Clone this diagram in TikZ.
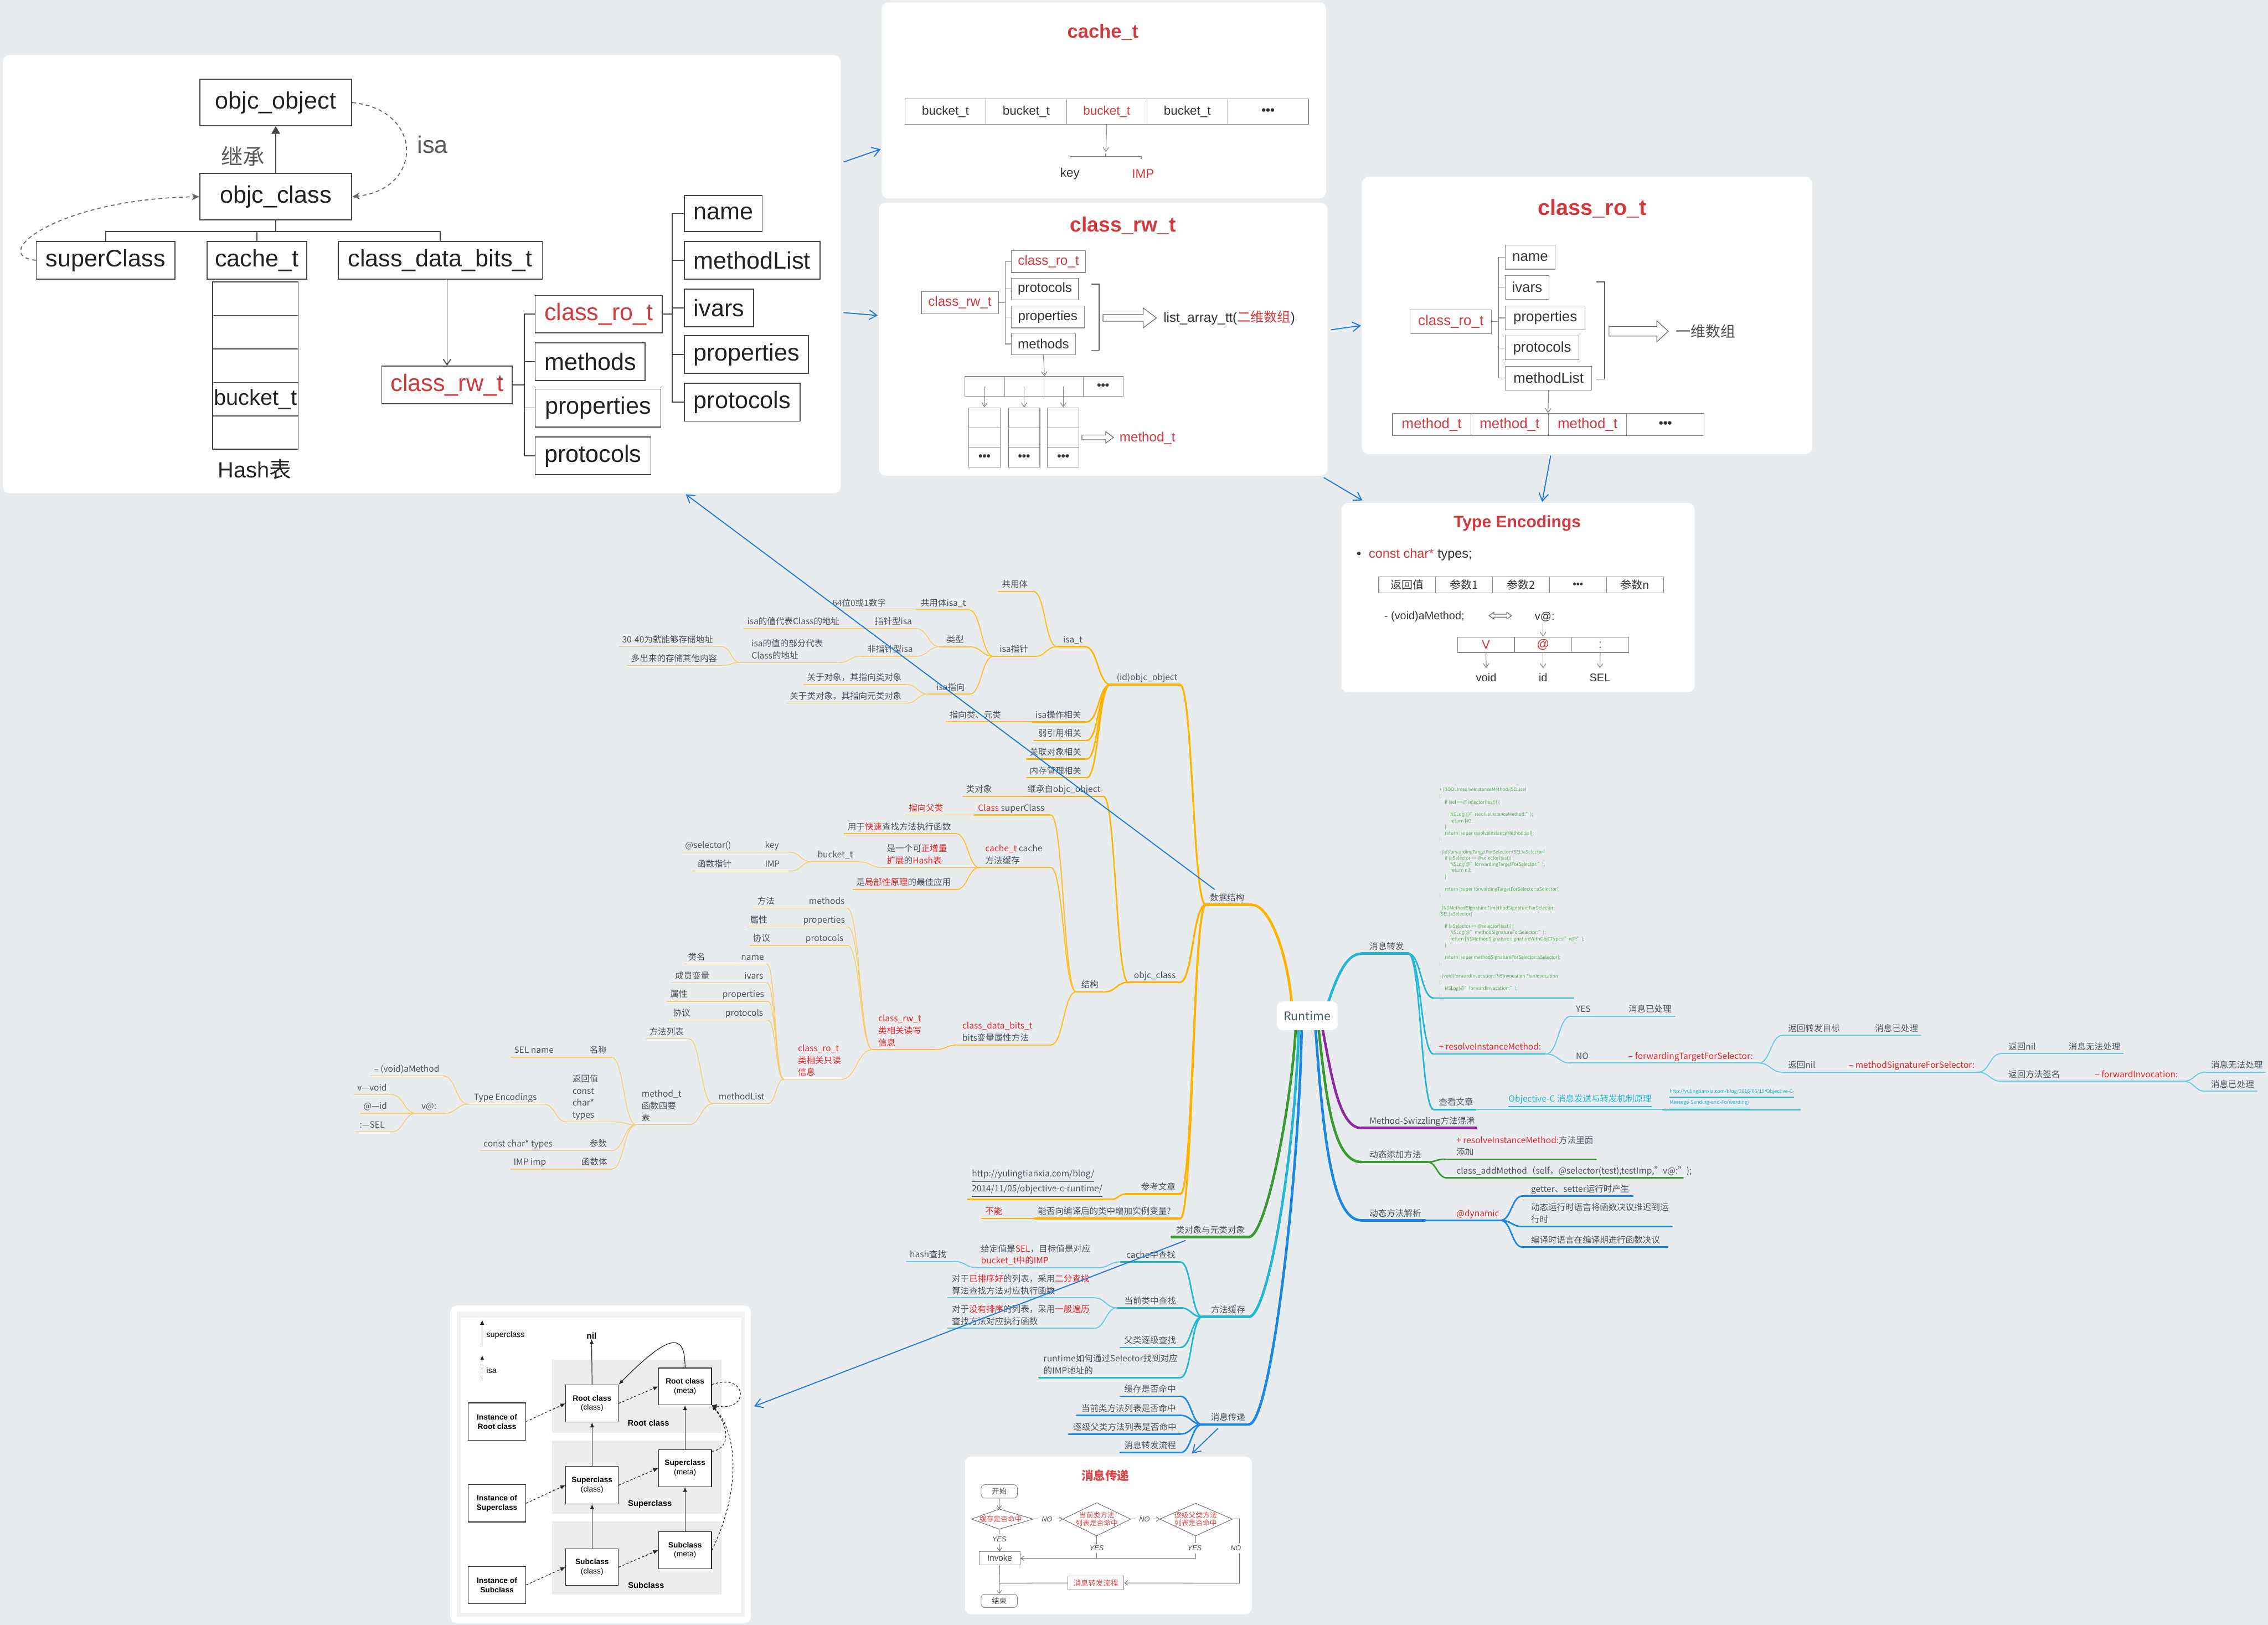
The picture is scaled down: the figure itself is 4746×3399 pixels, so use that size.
\documentclass[tikz,border=0pt]{standalone}
\usepackage{fontspec}
\setmainfont{Noto Sans CJK SC}
\newfontfamily\arial{Liberation Sans}
\newcommand\cjk{\rmfamily}
\usetikzlibrary{arrows.meta,calc}
\definecolor{bgc}{HTML}{E9ECEF}
\definecolor{txt}{HTML}{4B5560}
\definecolor{mred}{HTML}{E8262B}
\definecolor{pred}{HTML}{CF3A3F}
\definecolor{org}{HTML}{FFB300}
\definecolor{org2}{HTML}{FFBE2C}
\definecolor{org3}{HTML}{F8CC68}
\definecolor{cya}{HTML}{22B7D3}
\definecolor{cya2}{HTML}{6ACBE0}
\definecolor{blu}{HTML}{1C86E3}
\definecolor{grn}{HTML}{3A9A32}
\definecolor{pur}{HTML}{8C2A9E}
\definecolor{codegreen}{HTML}{5BAF5B}
\definecolor{lnk}{HTML}{1F7BD8}
\definecolor{tlgray}{HTML}{444444}
\definecolor{tltext}{HTML}{222222}
\definecolor{pgray}{HTML}{8A8A8A}
\definecolor{ptext}{HTML}{333333}
\definecolor{rtc}{HTML}{3E5A6A}
\definecolor{fred}{HTML}{D9464A}
\definecolor{band}{HTML}{EDEDED}
\tikzset{
  panel/.style={fill=white, rounded corners=3.5pt},
  mt/.style={font=\fontsize{4.5pt}{6.25pt}\selectfont, text=txt, align=left, inner sep=0pt, anchor=south west, execute at end node={\vphantom{g}}},
  o1/.style={draw=org, line width=1.35pt, line cap=round},
  o2/.style={draw=org, line width=0.95pt, line cap=round},
  o3/.style={draw=org, line width=0.75pt, line cap=round},
  o4/.style={draw=org2, line width=0.6pt, line cap=round},
  o5/.style={draw=org2, line width=0.5pt, line cap=round},
  o6/.style={draw=org3, line width=0.38pt, line cap=round},
  c1/.style={draw=cya, line width=1.35pt, line cap=round},
  c2/.style={draw=cya, line width=0.8pt, line cap=round},
  c3/.style={draw=cya2, line width=0.55pt, line cap=round},
  b1/.style={draw=blu, line width=1.35pt, line cap=round},
  b2/.style={draw=blu, line width=0.8pt, line cap=round},
  g1/.style={draw=grn, line width=1.35pt, line cap=round},
  g2/.style={draw=grn, line width=0.8pt, line cap=round},
  p1/.style={draw=pur, line width=1.35pt, line cap=round},
  code/.style={font=\fontsize{2.4pt}{3.25pt}\selectfont, text=codegreen, align=left, inner sep=0pt, anchor=north west},
  tlb/.style={draw=tlgray, line width=0.5pt, font=\arial\fontsize{12.5pt}{15pt}\selectfont, text=tltext, inner sep=0pt},
  tlline/.style={draw=tlgray, line width=0.5pt},
  pb/.style={draw=pgray, line width=0.35pt, inner sep=0pt, text=ptext},
  pl/.style={draw=pgray, line width=0.35pt},
  pa/.style={draw=pgray, line width=0.35pt, -{Straight Barb[length=2.2pt,width=3pt]}},
  lnkarrow/.style={draw=lnk, line width=0.55pt, -{Straight Barb[length=4pt,width=5pt]}},
  blb/.style={draw=black!85, line width=0.35pt, fill=white, font=\arial\fontsize{4pt}{4.9pt}\selectfont, align=center, inner sep=0pt},
  bla/.style={draw=black!85, line width=0.35pt, -{Latex[length=2.6pt,width=2.2pt]}},
  fline/.style={draw=black!55, line width=0.3pt},
  farrow/.style={draw=black!55, line width=0.3pt, -{Straight Barb[length=1.6pt,width=2.4pt]}},
  fbox/.style={draw=black!45, line width=0.3pt, inner sep=0pt, font=\fontsize{3.9pt}{4.6pt}\selectfont, text=black!75},
  fc/.style={font=\fontsize{3.7pt}{4.2pt}\selectfont, text=fred, align=center, inner sep=0pt},
  fno/.style={font=\arial\itshape\fontsize{3.7pt}{4pt}\selectfont, text=black!70, inner sep=0pt}
}
\newcommand\mmnode[7]{%
  \coordinate (#1-l) at (#2,#4);
  \coordinate (#1-r) at (#3,#4);
  \draw[#5] (#1-l) -- (#1-r);
  \node[mt] (#1) at (#6,#4-3) {#7};}
\newcommand\mmconn[3]{\draw[#1] let \p1=(#2),\p2=(#3) in (#2) .. controls ({0.5*\x1+0.5*\x2},\y1) and ({0.5*\x1+0.5*\x2},\y2) .. (#3);}
\newcommand\boxnode[7][]{\node[#1, minimum width={(#5-#3)*0.25pt}, minimum height={(#6-#4)*0.25pt}] (#2) at ({(#3+#5)/2},{(#4+#6)/2}) {#7};}
\begin{document}
\begin{tikzpicture}[x=0.25pt,y=-0.25pt]
\useasboundingbox (0,0) rectangle (4746,3399);
\fill[bgc] (0,0) rectangle (4746,3399);

% ================= panels =================
\fill[panel] (6,115) rectangle (1759,1032);
\fill[panel] (1845,5) rectangle (2775,415);
\fill[panel] (1839,424) rectangle (2778,995);
\fill[panel] (2850,370) rectangle (3792,950);
\fill[panel] (2807,1052) rectangle (3546,1448);
\fill[panel] (942,2731) rectangle (1571,3396);
\fill[panel] (2019,3047) rectangle (2620,3377);

% ================= top-left panel =================
\boxnode[tlb]{objo}{418}{166}{736}{263}{objc\_object}
\boxnode[tlb]{objc}{418}{363}{736}{460}{objc\_class}
\boxnode[tlb]{supc}{76}{505}{366}{584}{superClass}
\boxnode[tlb]{cach}{433}{505}{642}{584}{cache\_t}
\boxnode[tlb]{cdb}{708}{505}{1135}{584}{class\_data\_bits\_t}
\boxnode[tlb]{h1}{445}{590}{624}{660}{}
\boxnode[tlb]{h2}{445}{660}{624}{730}{}
\boxnode[tlb]{h3}{445}{730}{624}{800}{}
\boxnode[tlb, font=\arial\fontsize{11.5pt}{13pt}\selectfont]{h4}{445}{800}{624}{870}{bucket\_t}
\boxnode[tlb]{h5}{445}{870}{624}{940}{}
\node[font=\arial\fontsize{11.5pt}{13pt}\selectfont, text=tltext] (hashl) at (533,982) {Hash{\cjk 表}};
\boxnode[tlb, text=pred]{trw}{799}{766}{1072}{845}{class\_rw\_t}
\boxnode[tlb, text=pred]{tro}{1120}{618}{1386}{696}{class\_ro\_t}
\boxnode[tlb]{tm}{1120}{717}{1350}{796}{methods}
\boxnode[tlb]{tp}{1120}{814}{1383}{893}{properties}
\boxnode[tlb]{tpr}{1120}{914}{1362}{993}{protocols}
\boxnode[tlb]{tn}{1432}{409}{1595}{484}{name}
\boxnode[tlb]{tml}{1432}{505}{1716}{584}{methodList}
\boxnode[tlb]{tiv}{1432}{605}{1577}{684}{ivars}
\boxnode[tlb]{tpp}{1432}{702}{1692}{781}{properties}
\boxnode[tlb]{tpt}{1432}{802}{1674}{881}{protocols}
\node[font=\fontsize{11.4pt}{13pt}\selectfont, text=black!65] (jc) at (508,327) {继承};
\node[font=\arial\fontsize{12.5pt}{14pt}\selectfont, text=black!65] (isal) at (905,303) {isa};
\draw[tlline, -{Triangle[length=4pt,width=4.5pt]}] (objc.north) -- (objo.south);
\coordinate (tj) at (577,484);
\draw[tlline] (objc.south) -- (tj);
\draw[tlline] (supc.north) -- (supc.north |- tj) -- (cdb.north |- tj) -- (cdb.north);
\draw[tlline] (cach.north) -- (cach.north |- tj);
\draw[tlline, -{Straight Barb[length=3pt,width=4pt]}] (trw.north |- cdb.south) -- (trw.north);
\draw[tlline] (trw.east) -- ++(26,0);
\draw[tlline] (tro.west) -- ++(-22,0) |- (tpr.west);
\draw[tlline] (tm.west) -- ++(-22,0);
\draw[tlline] (tp.west) -- ++(-22,0);
\draw[tlline] (tro.east) -- ++(22,0);
\draw[tlline] (tn.west) -- ++(-24,0) |- (tpt.west);
\draw[tlline] (tml.west) -- ++(-24,0);
\draw[tlline] (tiv.west) -- ++(-24,0);
\draw[tlline] (tpp.west) -- ++(-24,0);
\draw[tlline, draw=black!60, dash pattern=on 2pt off 1.6pt, -{Stealth[length=4pt,width=3.6pt]}] (objo.east) .. controls +(150,15) and +(150,-15) .. (objc.east);
\draw[tlline, draw=black!60, dash pattern=on 2pt off 1.6pt, -{Stealth[length=4pt,width=3.6pt]}] (supc.west) .. controls +(-100,-10) and +(-300,5) .. (objc.west);

% ================= cache_t panel =================
\node[font=\arial\bfseries\fontsize{10pt}{12pt}\selectfont, text=pred] (ctitle) at (2308,67) {cache\_t};
\boxnode[pb, font=\arial\fontsize{6.5pt}{7.5pt}\selectfont]{cb1}{1894}{207}{2063}{260}{bucket\_t}
\boxnode[pb, font=\arial\fontsize{6.5pt}{7.5pt}\selectfont]{cb2}{2063}{207}{2232}{260}{bucket\_t}
\boxnode[pb, font=\arial\fontsize{6.5pt}{7.5pt}\selectfont, text=pred]{cb3}{2232}{207}{2400}{260}{bucket\_t}
\boxnode[pb, font=\arial\fontsize{6.5pt}{7.5pt}\selectfont]{cb4}{2400}{207}{2569}{260}{bucket\_t}
\boxnode[pb, font=\arial\bfseries\fontsize{6.5pt}{7.5pt}\selectfont]{cb5}{2569}{207}{2738}{260}{•••}
\coordinate (cbr) at (2314,321);
\draw[pa] (cb3.south) -- (2314,318);
\draw[pl] (2239,333) -- (2239,327) -- (2388,327) -- (2388,333);
\draw[pl] (2314,327) -- (cbr);
\node[font=\arial\fontsize{6.5pt}{7.5pt}\selectfont, text=ptext] (ckey) at (2239,364) {key};
\node[font=\arial\fontsize{6.5pt}{7.5pt}\selectfont, text=pred] (cimp) at (2392,364) {IMP};

% ================= class_rw_t panel =================
\node[font=\arial\bfseries\fontsize{10.8pt}{12pt}\selectfont, text=pred] (rwtitle) at (2350,472) {class\_rw\_t};
\boxnode[pb, font=\arial\fontsize{7pt}{8pt}\selectfont, text=pred]{rwb}{1928}{610}{2089}{656}{class\_rw\_t}
\boxnode[pb, font=\arial\fontsize{7pt}{8pt}\selectfont, text=pred]{rro}{2116}{524}{2272}{570}{class\_ro\_t}
\boxnode[pb, font=\arial\fontsize{7pt}{8pt}\selectfont]{rpc}{2116}{582}{2257}{627}{protocols}
\boxnode[pb, font=\arial\fontsize{7pt}{8pt}\selectfont]{rpp}{2116}{640}{2269}{686}{properties}
\boxnode[pb, font=\arial\fontsize{7pt}{8pt}\selectfont]{rme}{2116}{697}{2251}{742}{methods}
\draw[pl] (rwb.east) -- ++(15,0);
\draw[pl] (rro.west) -- ++(-12,0) |- (rme.west);
\draw[pl] (rpc.west) -- ++(-12,0);
\draw[pl] (rpp.west) -- ++(-12,0);
\draw[pl, line width=0.5pt, draw=black!65] (2284,594) -- (2300,594) -- (2300,733) -- (2284,733);
\draw[pl, draw=black!60, fill=white] (2308,658) -- (2392,658) -- (2392,644) -- (2420,665) -- (2392,686) -- (2392,672) -- (2308,672) -- cycle;
\node[anchor=west, font=\arial\fontsize{7pt}{8pt}\selectfont, text=ptext, inner sep=0pt] (lat) at (2434,665) {list\_array\_tt({\cjk\textcolor{pred}{二维数组}})};
\boxnode[pb]{rr1}{2019}{788}{2102}{829}{}
\boxnode[pb]{rr2}{2102}{788}{2185}{829}{}
\boxnode[pb]{rr3}{2185}{788}{2267}{829}{}
\boxnode[pb, font=\arial\bfseries\fontsize{6pt}{7pt}\selectfont]{rr4}{2267}{788}{2350}{829}{•••}
\draw[pa] (rme.south) -- (rr2.north east);
\foreach \cx/\nm in {2027/ca,2110/cb,2192/cc}{
  \boxnode[pb]{\nm1}{\cx}{853}{\cx+66}{895}{}
  \boxnode[pb]{\nm2}{\cx}{895}{\cx+66}{936}{}
  \boxnode[pb, font=\arial\bfseries\fontsize{6pt}{7pt}\selectfont]{\nm3}{\cx}{936}{\cx+66}{977}{•••}
}
\draw[pa] (2061,809) -- (ca1.north);
\draw[pa] (2143,809) -- (cb1.north);
\draw[pa] (2225,809) -- (cc1.north);
\draw[pl, draw=black!60, fill=white] (2264,910) -- (2314,910) -- (2314,903) -- (2330,915) -- (2314,927) -- (2314,920) -- (2264,920) -- cycle;
\node[anchor=west, font=\arial\fontsize{7pt}{8pt}\selectfont, text=pred, inner sep=0pt] (rwmt) at (2342,917) {method\_t};

% ================= class_ro_t panel =================
\node[font=\arial\bfseries\fontsize{11.5pt}{13pt}\selectfont, text=pred] (rotitle) at (3332,436) {class\_ro\_t};
\boxnode[pb, font=\arial\fontsize{7.5pt}{9pt}\selectfont, text=pred]{cro}{2951}{648}{3121}{698}{class\_ro\_t}
\boxnode[pb, font=\arial\fontsize{7.5pt}{9pt}\selectfont]{ron}{3150}{513}{3254}{563}{name}
\boxnode[pb, font=\arial\fontsize{7.5pt}{9pt}\selectfont]{roi}{3150}{576}{3241}{626}{ivars}
\boxnode[pb, font=\arial\fontsize{7.5pt}{9pt}\selectfont]{rop}{3150}{640}{3317}{690}{properties}
\boxnode[pb, font=\arial\fontsize{7.5pt}{9pt}\selectfont]{ropt}{3150}{703}{3304}{753}{protocols}
\boxnode[pb, font=\arial\fontsize{7.5pt}{9pt}\selectfont]{roml}{3150}{766}{3331}{816}{methodList}
\draw[pl] (cro.east) -- ++(15,0);
\draw[pl] (ron.west) -- ++(-14,0) |- (roml.west);
\draw[pl] (roi.west) -- ++(-14,0);
\draw[pl] (rop.west) -- ++(-14,0);
\draw[pl] (ropt.west) -- ++(-14,0);
\draw[pl, line width=0.5pt, draw=black!65] (3341,590) -- (3358,590) -- (3358,793) -- (3341,793);
\draw[pl, draw=black!60, fill=white] (3367,683) -- (3467,683) -- (3467,671) -- (3491,693) -- (3467,715) -- (3467,703) -- (3367,703) -- cycle;
\node[anchor=west, font=\fontsize{7.8pt}{9pt}\selectfont, text=black!70, inner sep=0pt] (yiwei) at (3506,693) {一维数组};
\boxnode[pb, font=\arial\fontsize{7.5pt}{9pt}\selectfont, text=pred]{rm1}{2914}{865}{3078}{911}{method\_t}
\boxnode[pb, font=\arial\fontsize{7.5pt}{9pt}\selectfont, text=pred]{rm2}{3078}{865}{3240}{911}{method\_t}
\boxnode[pb, font=\arial\fontsize{7.5pt}{9pt}\selectfont, text=pred]{rm3}{3240}{865}{3404}{911}{method\_t}
\boxnode[pb, font=\arial\bfseries\fontsize{6.5pt}{8pt}\selectfont]{rm4}{3404}{865}{3566}{911}{•••}
\draw[pa] (roml.south) -- (rm3.north west);

% ================= Type Encodings panel =================
\node[font=\arial\bfseries\fontsize{8.7pt}{10pt}\selectfont, text=pred] (tetitle) at (3175,1095) {Type Encodings};
\node[anchor=west, font=\arial\fontsize{6.8pt}{8pt}\selectfont, text=ptext, inner sep=0pt] (tebul) at (2838,1160) {•\hspace{4pt}\textcolor{pred}{const char*} types;};
\boxnode[pb, font=\fontsize{5.8pt}{7pt}\selectfont]{te1}{2885}{1207}{3004}{1240}{返回值}
\boxnode[pb, font=\fontsize{5.8pt}{7pt}\selectfont]{te2}{3004}{1207}{3123}{1240}{参数1}
\boxnode[pb, font=\fontsize{5.8pt}{7pt}\selectfont]{te3}{3123}{1207}{3242}{1240}{参数2}
\boxnode[pb, font=\arial\bfseries\fontsize{5pt}{7pt}\selectfont]{te4}{3242}{1207}{3362}{1240}{•••}
\boxnode[pb, font=\fontsize{5.8pt}{7pt}\selectfont]{te5}{3362}{1207}{3481}{1240}{参数n}
\node[anchor=west, font=\arial\fontsize{5.75pt}{7pt}\selectfont, text=ptext, inner sep=0pt] (team) at (2896,1290) {- (void)aMethod;};
\draw[pl, draw=black!60, fill=white] (3116,1288) -- (3126,1281) -- (3126,1285) -- (3153,1285) -- (3153,1281) -- (3163,1288) -- (3153,1295) -- (3153,1291) -- (3126,1291) -- (3126,1295) -- cycle;
\node[anchor=west, font=\arial\fontsize{5.75pt}{7pt}\selectfont, text=ptext, inner sep=0pt] (tevat) at (3211,1290) {v@:};
\boxnode[pb, font=\arial\fontsize{6.5pt}{7pt}\selectfont, text=pred]{tv1}{3050}{1333}{3169}{1365}{V}
\boxnode[pb, font=\arial\fontsize{6.5pt}{7pt}\selectfont, text=pred]{tv2}{3169}{1333}{3289}{1365}{@}
\boxnode[pb, font=\arial\fontsize{6.5pt}{7pt}\selectfont, text=pred]{tv3}{3289}{1333}{3408}{1365}{:}
\draw[pa] (3229,1305) -- (tv2.north);
\node[font=\arial\fontsize{5.8pt}{7pt}\selectfont, text=ptext] (tvoid) at (3110,1418) {void};
\node[font=\arial\fontsize{5.8pt}{7pt}\selectfont, text=ptext] (tid) at (3229,1418) {id};
\node[font=\arial\fontsize{5.8pt}{7pt}\selectfont, text=ptext] (tsel) at (3348,1418) {SEL};
\draw[pa] (tv1.south) -- (3110,1398);
\draw[pa] (tv2.south) -- (3229,1398);
\draw[pa] (tv3.south) -- (3348,1398);

% ================= isa diagram panel =================
\fill[black!5] (956,2744) rectangle (1558,3382);
\fill[white] (964,2757) rectangle (1552,3374);
\fill[band] (1155,2845) rectangle (1510,2998);
\fill[band] (1155,3014) rectangle (1510,3167);
\fill[band] (1155,3183) rectangle (1510,3336);
\coordinate (lg1a) at (1009,2813); \coordinate (lg1b) at (1009,2761);
\coordinate (lg2a) at (1009,2889); \coordinate (lg2b) at (1009,2835);
\draw[bla] (lg1a) -- (lg1b);
\draw[bla, dash pattern=on 1pt off 1pt] (lg2a) -- (lg2b);
\node[anchor=west, font=\arial\fontsize{4.2pt}{5pt}\selectfont, inner sep=0pt] (lgs) at (1017,2793) {superclass};
\node[anchor=west, font=\arial\fontsize{4.2pt}{5pt}\selectfont, inner sep=0pt] (lgi) at (1017,2867) {isa};
\boxnode[blb]{ir}{980}{2935}{1100}{3013}{\textbf{Instance of}\\\textbf{Root class}}
\boxnode[blb]{is}{980}{3106}{1100}{3184}{\textbf{Instance of}\\\textbf{Superclass}}
\boxnode[blb]{ib}{980}{3277}{1100}{3355}{\textbf{Instance of}\\\textbf{Subclass}}
\boxnode[blb]{rc}{1184}{2897}{1294}{2975}{\textbf{Root class}\\(class)}
\boxnode[blb]{sc}{1184}{3068}{1294}{3146}{\textbf{Superclass}\\(class)}
\boxnode[blb]{bc}{1184}{3240}{1294}{3317}{\textbf{Subclass}\\(class)}
\boxnode[blb]{rm}{1378}{2862}{1489}{2939}{\textbf{Root class}\\(meta)}
\boxnode[blb]{sm}{1378}{3033}{1489}{3110}{\textbf{Superclass}\\(meta)}
\boxnode[blb]{bm}{1378}{3204}{1489}{3282}{\textbf{Subclass}\\(meta)}
\node[font=\arial\bfseries\fontsize{4.3pt}{5pt}\selectfont] (bnd1) at (1357,2977) {Root class};
\node[font=\arial\bfseries\fontsize{4.3pt}{5pt}\selectfont] (bnd2) at (1360,3147) {Superclass};
\node[font=\arial\bfseries\fontsize{4.3pt}{5pt}\selectfont] (bnd3) at (1352,3316) {Subclass};
\node[font=\arial\bfseries\fontsize{4.5pt}{5pt}\selectfont, inner sep=0pt] (nil) at (1238,2794) {nil};
\draw[bla] (rc.north) -- (nil.south);
\draw[bla] (sc.north) -- (rc.south);
\draw[bla] (bc.north) -- (sc.south);
\draw[bla] (sm.north) -- (rm.south);
\draw[bla] (bm.north) -- (sm.south);
\draw[bla] (rm.north) .. controls (1434,2785) and (1400,2790) .. (rc.north east);
\draw[bla, dash pattern=on 1.2pt off 1pt] (ir.east) -- (rc.west);
\draw[bla, dash pattern=on 1.2pt off 1pt] (is.east) -- (sc.west);
\draw[bla, dash pattern=on 1.2pt off 1pt] (ib.east) -- (bc.west);
\draw[bla, dash pattern=on 1.2pt off 1pt] (rc.east) -- (rm.west);
\draw[bla, dash pattern=on 1.2pt off 1pt] (sc.east) -- (sm.west);
\draw[bla, dash pattern=on 1.2pt off 1pt] (bc.east) -- (bm.west);
\draw[bla, dash pattern=on 1.2pt off 1pt] ([yshift=1pt]rm.east) .. controls (1565,2870) and (1570,2955) .. (rm.south east);
\draw[bla, dash pattern=on 1.2pt off 1pt] ([yshift=-1pt]sm.north east) .. controls (1530,3030) and (1525,2985) .. (rm.south east);
\draw[bla, dash pattern=on 1.2pt off 1pt] (bm.east) .. controls (1550,3120) and (1545,3000) .. (rm.south east);

% ================= 消息传递 flow panel =================
\node[font=\bfseries\fontsize{6.25pt}{7pt}\selectfont, text=fred] (fct) at (2313,3087) {消息传递};
\boxnode[fbox, rounded corners=2pt]{fstart}{2053}{3106}{2129}{3134}{开始}
\boxnode[fbox, text=fred]{ffwd}{2234}{3297}{2352}{3326}{消息转发流程}
\boxnode[fbox, font=\arial\fontsize{4.4pt}{5pt}\selectfont]{finv}{2049}{3246}{2135}{3274}{Invoke}
\boxnode[fbox, rounded corners=2pt]{fend}{2053}{3335}{2129}{3363}{结束}
\draw[fline] (2033,3178) -- (2091,3157) -- (2162,3178) -- (2091,3199) -- cycle;
\node[fc] (d1) at (2094,3178) {缓存是否命中};
\draw[fline] (2224,3178) -- (2295,3144) -- (2366,3178) -- (2295,3213) -- cycle;
\node[fc] (d2) at (2295,3178) {当前类方法\\列表是否命中};
\draw[fline] (2427,3178) -- (2502,3145) -- (2579,3178) -- (2502,3213) -- cycle;
\node[fc] (d3) at (2502,3178) {逐级父类方法\\列表是否命中};
\draw[farrow] (fstart.south) -- (2091,3157);
\draw[fline] (2162,3178) -- (2172,3178);
\node[fno] (no1) at (2191,3178) {NO};
\draw[farrow] (2211,3178) -- (2224,3178);
\draw[fline] (2366,3178) -- (2376,3178);
\node[fno] (no2f) at (2395,3178) {NO};
\draw[farrow] (2413,3178) -- (2427,3178);
\draw[fline] (2579,3178) -- (2594,3178) -- (2594,3228);
\node[fno] (no3) at (2586,3239) {NO};
\draw[farrow] (2594,3250) -- (2594,3312) -- (ffwd.east);
\draw[fline] (ffwd.west) -- (2091,3312);
\draw[fline] (2091,3199) -- (2091,3210);
\node[fno] (yes1) at (2091,3220) {YES};
\draw[farrow] (2091,3230) -- (finv.north);
\draw[fline] (2295,3213) -- (2295,3230);
\node[fno] (yes2) at (2295,3239) {YES};
\draw[fline] (2295,3249) -- (2295,3260);
\draw[fline] (2502,3213) -- (2502,3228);
\node[fno] (yes3) at (2500,3239) {YES};
\draw[farrow] (2502,3250) -- (2502,3260) -- (finv.east);
\draw[farrow] (finv.south) -- (fend.north);

% ================= mind map: data structures (orange) =================
\mmnode{ds}{2523}{2620}{1893}{o1}{2531}{数据结构}
\mmnode{obj}{2324}{2469}{1432}{o2}{2336}{(id)objc\_object}
\mmnode{cls}{2361}{2469}{2055}{o2}{2372}{objc\_class}
\mmnode{ref}{2355}{2470}{2498}{o2}{2387}{参考文章}
\mmnode{canq}{2165}{2470}{2549}{o2}{2171}{能否向编译后的类中增加实例变量?}
\mmconn{o2}{obj-r}{ds-l}
\mmconn{o2}{cls-r}{ds-l}
\mmconn{o2}{ref-r}{ds-l}
\mmconn{o2}{canq-r}{ds-l}
\mmnode{reflink}{2025}{2326}{2509}{o3}{2033}{\underline{http://yulingtianxia.com/blog/}\\\underline{2014/11/05/objective-c-runtime/}}
\mmconn{o3}{reflink-r}{ref-l}
\mmnode{no}{2054}{2165}{2549}{o3}{2061}{\textcolor{mred}{不能}}
\mmconn{o3}{no-r}{canq-l}
\mmnode{isat}{2212}{2271}{1353}{o3}{2224}{isa\_t}
\mmnode{isaop}{2160}{2274}{1510}{o3}{2166}{isa操作相关}
\mmnode{weak}{2164}{2274}{1549}{o3}{2172}{弱引用相关}
\mmnode{assoc}{2148}{2274}{1588}{o3}{2154}{关联对象相关}
\mmnode{memm}{2148}{2274}{1627}{o3}{2154}{内存管理相关}
\mmconn{o3}{isat-r}{obj-l}
\mmconn{o3}{isaop-r}{obj-l}
\mmconn{o3}{weak-r}{obj-l}
\mmconn{o3}{assoc-r}{obj-l}
\mmconn{o3}{memm-r}{obj-l}
\mmnode{inh}{2141}{2309}{1666}{o3}{2149}{继承自objc\_object}
\mmnode{struct}{2252}{2311}{2075}{o3}{2262}{结构}
\mmconn{o3}{inh-r}{cls-l}
\mmconn{o3}{struct-r}{cls-l}
\mmnode{gyt}{2089}{2162}{1237}{o4}{2096}{共用体}
\mmnode{isap}{2079}{2166}{1373}{o4}{2091}{isa指针}
\mmconn{o4}{gyt-r}{isat-l}
\mmconn{o4}{isap-r}{isat-l}
\mmnode{ptrcls}{1980}{2160}{1510}{o4}{1986}{指向类、元类}
\mmconn{o4}{ptrcls-r}{isaop-l}
\mmnode{clsobj}{2015}{2141}{1666}{o4}{2021}{类对象}
\mmconn{o4}{clsobj-r}{inh-l}
\mmnode{sup}{2038}{2199}{1705}{o4}{2046}{\textcolor{mred}{Class} superClass}
\mmnode{cache}{2050}{2199}{1815}{o4}{2061}{\textcolor{mred}{cache\_t} cache\\方法缓存}
\mmnode{bits}{2005}{2199}{2186}{o4}{2013}{\textcolor{mred}{class\_data\_bits\_t}\\bits变量属性方法}
\mmconn{o4}{sup-r}{struct-l}
\mmconn{o4}{cache-r}{struct-l}
\mmconn{o4}{bits-r}{struct-l}
\mmnode{gytisa}{1917}{2028}{1276}{o5}{1926}{共用体isa\_t}
\mmnode{typ}{1967}{2029}{1353}{o5}{1980}{类型}
\mmnode{isato}{1942}{2029}{1452}{o5}{1959}{isa指向}
\mmconn{o5}{gytisa-r}{isap-l}
\mmconn{o5}{typ-r}{isap-l}
\mmconn{o5}{isato-r}{isap-l}
\mmnode{topar}{1895}{2038}{1705}{o5}{1901}{\textcolor{mred}{指向父类}}
\mmconn{o5}{topar-r}{sup-l}
\mmnode{fast}{1766}{2001}{1744}{o5}{1773}{用于\textcolor{mred}{快速}查找方法执行函数}
\mmnode{hashext}{1847}{2050}{1815}{o5}{1855}{是一个可\textcolor{mred}{正增量}\\\textcolor{mred}{扩展}的\textcolor{mred}{Hash表}}
\mmnode{local}{1785}{2001}{1861}{o5}{1791}{是\textcolor{mred}{局部性原理}的最佳应用}
\mmconn{o5}{fast-r}{cache-l}
\mmconn{o5}{hashext-r}{cache-l}
\mmconn{o5}{local-r}{cache-l}
\mmnode{rw}{1826}{1955}{2196}{o5}{1837}{\textcolor{mred}{class\_rw\_t}\\\textcolor{mred}{类相关读写}\\\textcolor{mred}{信息}}
\mmconn{o5}{rw-r}{bits-l}
\mmnode{b64}{1735}{1917}{1276}{o6}{1741}{64位0或1数字}
\mmconn{o6}{b64-r}{gytisa-l}
\mmnode{ptrisa}{1822}{1917}{1315}{o6}{1830}{指针型isa}
\mmnode{nptrisa}{1801}{1917}{1373}{o6}{1814}{非指针型isa}
\mmconn{o6}{ptrisa-r}{typ-l}
\mmconn{o6}{nptrisa-r}{typ-l}
\mmnode{aboutobj}{1681}{1897}{1432}{o6}{1688}{关于对象，其指向类对象}
\mmnode{aboutcls}{1646}{1897}{1471}{o6}{1652}{关于类对象，其指向元类对象}
\mmconn{o6}{aboutobj-r}{isato-l}
\mmconn{o6}{aboutcls-r}{isato-l}
\mmnode{bucket}{1698}{1797}{1803}{o6}{1710}{bucket\_t}
\mmconn{o6}{bucket-r}{hashext-l}
\mmnode{rwm}{1681}{1773}{1900}{o6}{1692}{methods}
\mmnode{rwp}{1669}{1774}{1939}{o6}{1680}{properties}
\mmnode{rwpr}{1675}{1774}{1978}{o6}{1685}{protocols}
\mmnode{ro}{1640}{1760}{2258}{o6}{1669}{\textcolor{mred}{class\_ro\_t}\\\textcolor{mred}{类相关只读}\\\textcolor{mred}{信息}}
\mmconn{o6}{rwm-r}{rw-l}
\mmconn{o6}{rwp-r}{rw-l}
\mmconn{o6}{rwpr-r}{rw-l}
\mmconn{o6}{ro-r}{rw-l}
\mmnode{isaval}{1557}{1822}{1315}{o6}{1563}{isa的值代表Class的地址}
\mmconn{o6}{isaval-r}{ptrisa-l}
\mmnode{isapart}{1548}{1756}{1386}{o6}{1572}{isa的值的部分代表\\Class的地址}
\mmconn{o6}{isapart-r}{nptrisa-l}
\mmnode{key}{1590}{1652}{1783}{o6}{1600}{key}
\mmnode{imp}{1590}{1656}{1822}{o6}{1600}{IMP}
\mmconn{o6}{key-r}{bucket-l}
\mmconn{o6}{imp-r}{bucket-l}
\mmnode{fm}{1576}{1681}{1900}{o6}{1584}{方法}
\mmnode{fp}{1564}{1669}{1939}{o6}{1569}{属性}
\mmnode{fpr}{1569}{1675}{1978}{o6}{1575}{协议}
\mmconn{o6}{fm-r}{rwm-l}
\mmconn{o6}{fp-r}{rwp-l}
\mmconn{o6}{fpr-r}{rwpr-l}
\mmnode{nm}{1545}{1605}{2017}{o6}{1550}{name}
\mmnode{iv}{1549}{1605}{2056}{o6}{1557}{ivars}
\mmnode{pp}{1506}{1607}{2095}{o6}{1511}{properties}
\mmnode{pt}{1511}{1607}{2134}{o6}{1517}{protocols}
\mmnode{ml}{1492}{1607}{2309}{o6}{1503}{methodList}
\mmconn{o6}{nm-r}{ro-l}
\mmconn{o6}{iv-r}{ro-l}
\mmconn{o6}{pp-r}{ro-l}
\mmconn{o6}{pt-r}{ro-l}
\mmconn{o6}{ml-r}{ro-l}
\mmnode{b3040}{1296}{1511}{1353}{o6}{1301}{30-40为就能够存储地址}
\mmnode{more}{1312}{1511}{1392}{o6}{1320}{多出来的存储其他内容}
\mmconn{o6}{b3040-r}{isapart-l}
\mmconn{o6}{more-r}{isapart-l}
\mmnode{sel}{1428}{1590}{1783}{o6}{1433}{@selector()}
\mmnode{fnptr}{1449}{1590}{1822}{o6}{1458}{函数指针}
\mmconn{o6}{sel-r}{key-l}
\mmconn{o6}{fnptr-r}{imp-l}
\mmnode{lm}{1434}{1545}{2017}{o6}{1439}{类名}
\mmnode{cy}{1406}{1549}{2056}{o6}{1412}{成员变量}
\mmnode{sx}{1396}{1506}{2095}{o6}{1402}{属性}
\mmnode{xy}{1402}{1511}{2134}{o6}{1408}{协议}
\mmconn{o6}{lm-r}{nm-l}
\mmconn{o6}{cy-r}{iv-l}
\mmconn{o6}{sx-r}{pp-l}
\mmconn{o6}{xy-r}{pt-l}
\mmnode{fflb}{1352}{1441}{2173}{o6}{1358}{方法列表}
\mmnode{mth}{1331}{1441}{2353}{o6}{1342}{method\_t\\函数四要\\素}
\mmconn{o6}{fflb-r}{ml-l}
\mmconn{o6}{mth-r}{ml-l}
\mmnode{mc}{1225}{1280}{2212}{o6}{1233}{名称}
\mmnode{fhz}{1186}{1286}{2347}{o6}{1197}{返回值\\const\\char*\\types}
\mmnode{cs}{1225}{1280}{2407}{o6}{1233}{参数}
\mmnode{hst}{1207}{1280}{2446}{o6}{1216}{函数体}
\mmconn{o6}{mc-r}{mth-l}
\mmconn{o6}{fhz-r}{mth-l}
\mmconn{o6}{cs-r}{mth-l}
\mmconn{o6}{hst-r}{mth-l}
\mmnode{seln}{1069}{1225}{2212}{o6}{1075}{SEL name}
\mmnode{tenc}{980}{1138}{2310}{o6}{991}{Type Encodings}
\mmnode{cct}{1005}{1225}{2407}{o6}{1011}{const char* types}
\mmnode{impi}{1068}{1207}{2446}{o6}{1074}{IMP imp}
\mmconn{o6}{seln-r}{mc-l}
\mmconn{o6}{tenc-r}{fhz-l}
\mmconn{o6}{cct-r}{cs-l}
\mmconn{o6}{impi-r}{hst-l}
\mmnode{amth}{776}{928}{2251}{o6}{782}{– (void)aMethod}
\mmnode{vat}{871}{931}{2329}{o6}{881}{v@:}
\mmconn{o6}{amth-r}{tenc-l}
\mmconn{o6}{vat-r}{tenc-l}
\mmnode{vv}{741}{819}{2290}{o6}{747}{v—void}
\mmnode{ai}{754}{871}{2329}{o6}{760}{@—id}
\mmnode{csel}{745}{819}{2368}{o6}{752}{:—SEL}
\mmconn{o6}{vv-r}{vat-l}
\mmconn{o6}{ai-r}{vat-l}
\mmconn{o6}{csel-r}{vat-l}

% ================= mind map: lower-left branches =================
\mmnode{cmo}{2452}{2613}{2588}{g1}{2460}{类对象与元类对象}
\mmnode{mcache}{2516}{2613}{2755}{c1}{2533}{方法缓存}
\mmnode{cfind}{2344}{2470}{2640}{c2}{2356}{cache中查找}
\mmnode{given}{2045}{2298}{2652}{c3}{2052}{给定值是\textcolor{mred}{SEL}，目标值是对应\\\textcolor{mred}{bucket\_t中的IMP}}
\mmnode{hashf}{1897}{1996}{2639}{c3}{1903}{hash查找}
\mmconn{c2}{cfind-r}{mcache-l}
\mmconn{c3}{given-r}{cfind-l}
\mmconn{c3}{hashf-r}{given-l}
\mmnode{curf}{2338}{2470}{2736}{c2}{2352}{当前类中查找}
\mmnode{sorted}{1983}{2289}{2715}{c3}{1991}{对于\textcolor{mred}{已排序好}的列表，采用\textcolor{mred}{二分查找}\\算法查找方法对应执行函数}
\mmnode{unsorted}{1983}{2289}{2779}{c3}{1991}{对于\textcolor{mred}{没有排序}的列表，采用\textcolor{mred}{一般遍历}\\查找方法对应执行函数}
\mmconn{c2}{curf-r}{mcache-l}
\mmconn{c3}{sorted-r}{curf-l}
\mmconn{c3}{unsorted-r}{curf-l}
\mmnode{supf}{2344}{2470}{2819}{c2}{2352}{父类逐级查找}
\mmnode{howimp}{2174}{2470}{2882}{c2}{2183}{runtime如何通过Selector找到对应\\的IMP地址的}
\mmconn{c2}{supf-r}{mcache-l}
\mmconn{c2}{howimp-r}{mcache-l}
\mmnode{msgp}{2516}{2613}{2980}{b1}{2533}{消息传递}
\mmnode{hit1}{2344}{2470}{2921}{b2}{2352}{缓存是否命中}
\mmnode{hit2}{2253}{2470}{2961}{b2}{2262}{当前类方法列表是否命中}
\mmnode{hit3}{2236}{2470}{3000}{b2}{2245}{逐级父类方法列表是否命中}
\mmnode{fwdp}{2344}{2470}{3039}{b2}{2352}{消息转发流程}
\mmconn{b2}{hit1-r}{msgp-l}
\mmconn{b2}{hit2-r}{msgp-l}
\mmconn{b2}{hit3-r}{msgp-l}
\mmconn{b2}{fwdp-r}{msgp-l}

% ================= mind map: right side =================
\mmnode{msgf}{2849}{2947}{1995}{c1}{2865}{消息转发}
\coordinate (codel-l) at (3000,2088);
\coordinate (codel-r) at (3293,2088);
\draw[c2] (codel-l) -- (codel-r);
\node[code] (codeblk) at (3011,1647) {%
+ (BOOL)resolveInstanceMethod:(SEL)sel\\
\{\\
\hspace*{2.9pt}if (sel == @selector(test)) \{\\
\mbox{}\\
\hspace*{5.8pt}NSLog(@"resolveInstanceMethod:");\\
\hspace*{5.8pt}return NO;\\
\hspace*{2.9pt}\}\\
\hspace*{2.9pt}return [super resolveInstanceMethod:sel];\\
\}\\
\mbox{}\\
- (id)forwardingTargetForSelector:(SEL)aSelector\{\\
\hspace*{2.9pt}if (aSelector == @selector(test)) \{\\
\hspace*{5.8pt}NSLog(@"forwardingTargetForSelector:");\\
\hspace*{5.8pt}return nil;\\
\hspace*{2.9pt}\}\\
\mbox{}\\
\hspace*{2.9pt}return [super forwardingTargetForSelector:aSelector];\\
\}\\
\mbox{}\\
- (NSMethodSignature *)methodSignatureForSelector:\\
(SEL)aSelector\{\\
\mbox{}\\
\hspace*{2.9pt}if (aSelector == @selector(test)) \{\\
\hspace*{5.8pt}NSLog(@"methodSignatureForSelector:");\\
\hspace*{5.8pt}return [NSMethodSignature signatureWithObjCTypes:"v@:"];\\
\hspace*{2.9pt}\}\\
\mbox{}\\
\hspace*{2.9pt}return [super methodSignatureForSelector:aSelector];\\
\}\\
\mbox{}\\
- (void)forwardInvocation:(NSInvocation *)anInvocation\\
\{\\
\hspace*{2.9pt}NSLog(@"forwardInvocation:");\\
\}};
\mmconn{c2}{msgf-r}{codel-l}
\mmnode{resv}{3000}{3235}{2205}{c2}{3010}{\textcolor{mred}{+ resolveInstanceMethod:}}
\mmconn{c2}{msgf-r}{resv-l}
\mmnode{yes}{3287}{3393}{2126}{c3}{3297}{YES}
\mmnode{yesd}{3393}{3505}{2126}{c3}{3407}{消息已处理}
\mmnode{no2}{3287}{3393}{2224}{c3}{3297}{NO}
\mmnode{ftfs}{3393}{3680}{2224}{c3}{3407}{\textcolor{mred}{– forwardingTargetForSelector:}}
\mmconn{c3}{resv-r}{yes-l}
\mmconn{c3}{resv-r}{no2-l}
\mmnode{rtt}{3730}{3856}{2166}{c3}{3741}{返回转发目标}
\mmnode{rttd}{3856}{4019}{2166}{c3}{3923}{消息已处理}
\mmnode{rnil}{3730}{3802}{2243}{c3}{3741}{返回nil}
\mmnode{msfs}{3802}{4139}{2243}{c3}{3868}{\textcolor{mred}{– methodSignatureForSelector:}}
\mmconn{c3}{ftfs-r}{rtt-l}
\mmconn{c3}{ftfs-r}{rnil-l}
\mmnode{rnil2}{4188}{4318}{2204}{c3}{4202}{返回nil}
\mmnode{cant}{4318}{4443}{2204}{c3}{4328}{消息无法处理}
\mmnode{rsig}{4188}{4370}{2262}{c3}{4202}{返回方法签名}
\mmnode{fwi}{4370}{4569}{2262}{c3}{4383}{\textcolor{mred}{– forwardInvocation:}}
\mmconn{c3}{msfs-r}{rnil2-l}
\mmconn{c3}{msfs-r}{rsig-l}
\mmnode{cant2}{4615}{4740}{2243}{c3}{4626}{消息无法处理}
\mmnode{done2}{4615}{4723}{2283}{c3}{4626}{消息已处理}
\mmconn{c3}{fwi-r}{cant2-l}
\mmconn{c3}{fwi-r}{done2-l}
\mmnode{art}{3000}{3088}{2321}{c2}{3010}{查看文章}
\mmconn{c2}{msgf-r}{art-l}
\mmnode{arttitle}{3088}{3480}{2321}{c3}{3156}{\textcolor{cya}{\underline{Objective-C 消息发送与转发机制原理}}}
\coordinate (arturl-l) at (3480,2322);
\coordinate (arturl-r) at (3767,2322);
\draw[c2] (arturl-l) -- (arturl-r);
\node[mt, font=\fontsize{2.55pt}{3.25pt}\selectfont, text=cya] (arturl) at (3493,2321) {\underline{http://yulingtianxia.com/blog/2016/06/15/Objective-C-}\\\underline{Message-Sending-and-Forwarding/}};
\mmnode{swz}{2849}{3089}{2360}{p1}{2865}{Method-Swizzling方法混淆}
\mmnode{dyadd}{2849}{2986}{2431}{g1}{2865}{动态添加方法}
\mmnode{dyadd1}{3024}{3340}{2425}{g2}{3047}{\textcolor{mred}{+ resolveInstanceMethod:}方法里面\\添加}
\mmnode{dyadd2}{3028}{3522}{2464}{g2}{3047}{class\_addMethod（self，@selector(test),testImp,”v@:”);}
\mmconn{g2}{dyadd-r}{dyadd1-l}
\mmconn{g2}{dyadd-r}{dyadd2-l}
\mmnode{dyres}{2849}{2982}{2553}{b1}{2865}{动态方法解析}
\mmnode{dyn}{2982}{3140}{2553}{b2}{3047}{\textcolor{mred}{@dynamic}}
\mmnode{gs}{3186}{3417}{2502}{b2}{3203}{getter、setter运行时产生}
\mmnode{rtl}{3186}{3499}{2566}{b2}{3203}{动态运行时语言将函数决议推迟到运\\行时}
\mmnode{ctl}{3186}{3490}{2609}{b2}{3203}{编译时语言在编译期进行函数决议}
\mmconn{b2}{dyn-r}{gs-l}
\mmconn{b2}{dyn-r}{rtl-l}
\mmconn{b2}{dyn-r}{ctl-l}

% ================= root connectors =================
\coordinate (rtA) at (2704,2110);
\coordinate (rtB) at (2712,2140);
\coordinate (rtC) at (2718,2140);
\coordinate (rtD) at (2724,2140);
\coordinate (rtE) at (2775,2110);
\coordinate (rtF) at (2765,2140);
\coordinate (rtG) at (2758,2140);
\coordinate (rtH) at (2752,2140);
\draw[o1] (ds-r) .. controls (2655,1893) and (2695,1990) .. (rtA);
\draw[g1] (cmo-r) .. controls (2650,2588) and (2705,2300) .. (rtB);
\draw[c1] (mcache-r) .. controls (2655,2755) and (2712,2400) .. (rtC);
\draw[b1] (msgp-r) .. controls (2660,2980) and (2720,2450) .. (rtD);
\draw[c1] (rtE) .. controls (2795,2050) and (2815,1995) .. (msgf-l);
\draw[p1] (rtF) .. controls (2785,2240) and (2800,2360) .. (swz-l);
\draw[g1] (rtG) .. controls (2775,2300) and (2790,2431) .. (dyadd-l);
\draw[b1] (rtH) .. controls (2770,2400) and (2790,2553) .. (dyres-l);
\node[fill=white, rounded corners=3pt, minimum width=31.75pt, minimum height=15pt, font=\fontsize{6.2pt}{7pt}\selectfont, text=rtc] (rt) at (2735.5,2125) {Runtime};

% ================= blue link arrows =================
\coordinate (a1s) at (1765,339); \coordinate (a1e) at (1843,312);
\coordinate (a2s) at (1765,654); \coordinate (a2e) at (1837,660);
\coordinate (a3s) at (2785,690); \coordinate (a3e) at (2848,681);
\coordinate (a4s) at (2770,999); \coordinate (a4e) at (2851,1047);
\coordinate (a5s) at (3245,953); \coordinate (a5e) at (3227,1050);
\coordinate (a6s) at (2542,1861); \coordinate (a6e) at (1435,1034);
\coordinate (a7s) at (2481,2595); \coordinate (a7e) at (1578,2942);
\coordinate (a8s) at (2549,2988); \coordinate (a8e) at (2494,3041);
\draw[lnkarrow] (a1s) -- (a1e);
\draw[lnkarrow] (a2s) -- (a2e);
\draw[lnkarrow] (a3s) -- (a3e);
\draw[lnkarrow] (a4s) -- (a4e);
\draw[lnkarrow] (a5s) -- (a5e);
\draw[lnkarrow] (a6s) -- (a6e);
\draw[lnkarrow] (a7s) -- (a7e);
\draw[lnkarrow] (a8s) -- (a8e);
\end{tikzpicture}
\end{document}
